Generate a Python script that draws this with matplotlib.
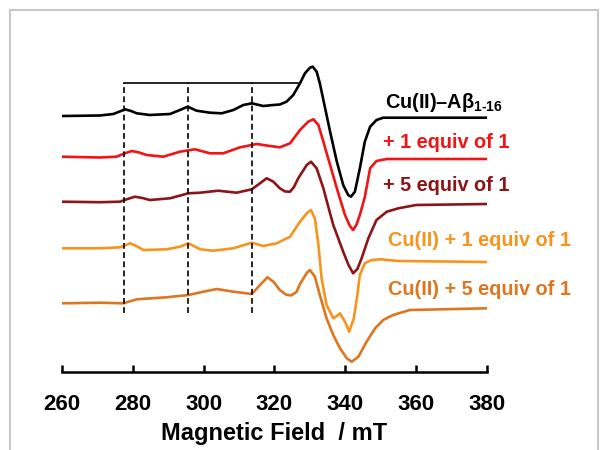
import matplotlib.pyplot as plt
from matplotlib.patches import Rectangle

plt.rcParams['font.family'] = ['Liberation Sans', 'DejaVu Sans']
plt.rcParams['font.weight'] = 'bold'
plt.rcParams['mathtext.fontset'] = 'custom'
plt.rcParams['mathtext.rm'] = 'Liberation Sans:bold'
plt.rcParams['mathtext.bf'] = 'Liberation Sans:bold'

# field (mT) and stacked intensity (a.u., offsets included)
field_cu_ab = [260, 270.7, 274.5, 276.3, 277.8, 279.5, 281.1, 284.8, 290.5, 293.3,
               295.5, 298.0, 301.8, 305.1, 308.4, 311.2, 313.6, 316.8, 319.7,
               321.5, 323.4, 325.3, 327.2, 328.6, 330.0, 330.8, 331.9, 332.8,
               334.3, 335.7, 337.6, 339.4, 340.8, 341.6, 342.7, 344.1, 345.5,
               347.0, 348.8, 350.7, 380]
int_cu_ab = [256, 256.5, 258, 260.5, 262.7, 261, 258.7, 257, 258, 262,
             265.3, 261.3, 259.3, 258.7, 262, 267, 268.7, 266, 267,
             267.5, 270.3, 277, 288.7, 298.7, 304.3, 305.3, 300.3, 288.7,
             263.7, 240.3, 210.3, 187, 177, 175.3, 180.3, 203.7, 230.3,
             245.3, 252, 254.3, 254.3]

field_1eq = [260, 270.7, 275.4, 277.6, 279.7, 281.8, 283.9, 288.6, 293.3, 297.5,
             301.8, 305.5, 310.3, 315.0, 318.7, 321.5, 324.4, 327.2, 329.5,
             331.0, 332.4, 333.8, 335.7, 337.6, 339.9, 341.3, 342.2, 343.1,
             344.1, 345.5, 347.0, 348.8, 351.7, 380]
int_1eq = [215.3, 214.5, 215.3, 218.5, 221, 219.5, 217, 215.3, 220.3, 222.7,
           218.7, 218.7, 224.7, 228, 226, 224.7, 228.7, 242, 250.3,
           252.7, 247, 230.3, 207, 183.7, 157, 146, 142, 147,
           157, 175, 203.7, 211, 213, 213]

field_5eq = [260, 270.7, 276.4, 278.5, 280.6, 282.7, 284.8, 290.5, 295.7, 299.0,
             304.1, 309.3, 313.6, 315.9, 317.8, 319.7, 321.5, 323.0, 324.4,
             325.5, 326.7, 329.1, 330.3, 331.9, 333.8, 335.7, 336.6, 339.4,
             340.9, 342.2, 343.4, 344.6, 346.5, 348.8, 351.7, 355, 360, 380]
int_5eq = [170.3, 169.8, 170.3, 173, 175.3, 174, 172, 173.7, 178.7, 179.3,
           181.3, 179.3, 182.7, 188.7, 193.7, 190.3, 183.7, 180.5, 180.3,
           185, 193.7, 207, 210.3, 203.7, 183.7, 158.5, 147, 120.3,
           107, 98.7, 103, 113.7, 133.7, 152, 160.3, 163.7, 167, 168]

field_cu_1eq = [260, 270.7, 276.4, 279.2, 281, 283, 289.6, 293.3, 295.7, 299,
                302.7, 308.4, 311, 313.6, 316.8, 320.6, 324.4, 327.2, 329.1,
                330.3, 331.4, 332.4, 333.3, 334.7, 336.6, 337.6, 338.5, 339.9,
                341.1, 342.4, 343.4, 344.1, 345.5, 347.4, 349.8, 355, 380]
int_cu_1eq = [123.7, 123.7, 124.7, 128.7, 126, 122, 122.7, 125.3, 128.7, 122.7,
              121.3, 123.7, 126.5, 129.3, 126, 128.7, 135.3, 150.3, 158.7,
              162, 153.7, 127, 93.7, 67, 53.7, 56, 58.7, 50.3,
              40.3, 53.7, 77, 97, 108.7, 112, 112.7, 111, 110]

field_cu_5eq = [260, 270.7, 277.3, 281.1, 289.5, 295.7, 299.9, 303.7, 308.4, 313.6,
                315.9, 318.0, 319.7, 321.5, 323.2, 324.7, 326.2, 327.2, 329.1,
                330.0, 331.4, 332.8, 334.7, 336.6, 338.5, 340.4, 341.8, 343.7,
                346.0, 348.4, 350.7, 353.5, 358.2, 380]
int_cu_5eq = [68.7, 69.3, 68.7, 72.7, 74.7, 77, 80.3, 83, 80.3, 78,
              87, 94.7, 90.3, 82, 77.5, 76.5, 80, 88, 99,
              102, 95.3, 77, 53.7, 37, 23.7, 13.7, 10.3, 15.3,
              30.3, 43.7, 52, 57, 62, 63.7]

labels = ['Cu(II)\u2013A\u03b2$_{1\u201016}$', '+ 1 equiv of 1', '+ 5 equiv of 1',
          'Cu(II) + 1 equiv of 1', 'Cu(II) + 5 equiv of 1']
label_x = [351.2, 350.6, 350.6, 352.0, 352.0]
label_y = [270, 230, 187, 132, 83]
colors = ['black', '#f21414', '#8b1518', '#f7941d', '#de7620']

# hyperfine markers
hf_lines = [277.5, 295.7, 313.7]
hf_top = 289
hf_bottom = 59
hf_end = 326.6

fig = plt.figure(figsize=(6, 4.5), dpi=100)
ax = fig.add_axes([0.10333, 0.17333, 0.70833, 0.73778])

fields = [field_cu_ab, field_1eq, field_5eq, field_cu_1eq, field_cu_5eq]
values = [int_cu_ab, int_1eq, int_5eq, int_cu_1eq, int_cu_5eq]
for f, v, c in zip(fields, values, colors):
    ax.plot(f, v, color=c, lw=1.9, solid_joinstyle='round',
            solid_capstyle='round')

for xh in hf_lines:
    ax.plot([xh, xh], [hf_bottom, hf_top], color='black', lw=1.2,
            linestyle=(0, (3.5, 2)))
ax.plot([hf_lines[0], hf_end], [hf_top, hf_top], color='black', lw=1.2)

for t, x, y, c in zip(labels, label_x, label_y, colors):
    ax.text(x, y, t, color=c, fontsize=14.3, fontweight='bold', va='center',
            ha='left')

ax.set_xlim(260, 380)
ax.set_ylim(0, 332)
ax.set_xticks(range(260, 381, 20))
ax.set_yticks([])
for s in ['top', 'left', 'right']:
    ax.spines[s].set_visible(False)
ax.spines['bottom'].set_linewidth(1.8)
ax.tick_params(axis='x', direction='in', length=5, width=1.8, pad=16,
               labelsize=16)
for lab in ax.get_xticklabels():
    lab.set_fontweight('bold')
ax.set_xlabel('Magnetic Field  / mT', fontsize=17, fontweight='bold',
              labelpad=5)
ax.patch.set_alpha(0)

# light grey frame around the picture
fig.patches.append(Rectangle((10 / 600, -0.05), 588 / 600, 1.05 - 10 / 450,
                             transform=fig.transFigure, fill=False,
                             edgecolor='#c8c8c8', lw=1.5))

fig.savefig('out.png', dpi=100)
